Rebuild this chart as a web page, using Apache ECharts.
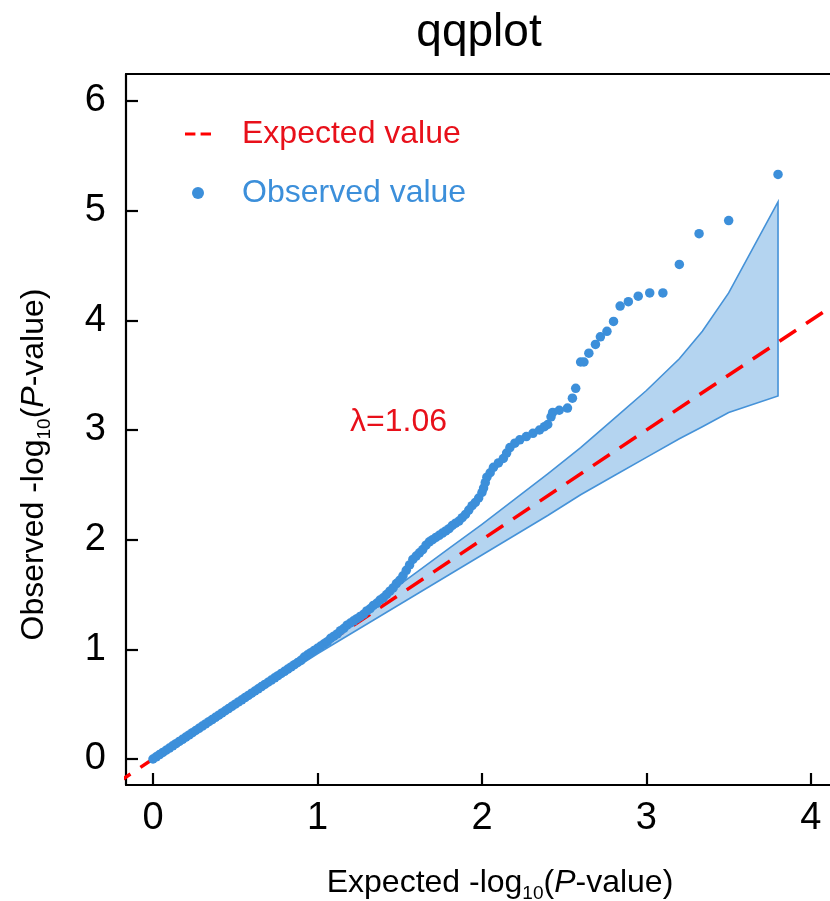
<!DOCTYPE html>
<html>
<head>
<meta charset="utf-8">
<script src="https://cdn.jsdelivr.net/npm/echarts@6/dist/echarts.min.js"></script>
<style>
html,body{margin:0;padding:0;background:#fff;}
#chart{width:830px;height:901px;}
</style>
</head>
<body>
<div id="chart"></div>
<script>
// ---- data ----
const xTicks = [0, 1, 2, 3, 4];
const yTicks = [0, 1, 2, 3, 4, 5, 6];

// expected line (y = x), two end points
const expectedX = [-0.4, 4.4];
const expectedY = [-0.4, 4.4];

// 95% confidence band
const bandX     = [0.00, 0.50, 1.00, 1.20, 1.40, 1.60, 1.80, 2.00, 2.20, 2.40, 2.60, 2.80, 3.00, 3.20, 3.34, 3.50, 3.80];
const bandLower = [0.00, 0.48, 0.96, 1.14, 1.32, 1.50, 1.68, 1.86, 2.04, 2.22, 2.41, 2.58, 2.75, 2.92, 3.03, 3.16, 3.31];
const bandUpper = [0.00, 0.52, 1.04, 1.26, 1.48, 1.70, 1.92, 2.14, 2.37, 2.60, 2.84, 3.10, 3.36, 3.65, 3.90, 4.25, 5.08];

// observed points
const observedX = [
  0.00,0.02,0.04,0.06,0.08,0.10,0.12,0.14,0.16,0.18,0.20,0.22,0.24,0.26,0.28,0.30,0.32,0.34,0.36,0.38,
  0.40,0.42,0.44,0.46,0.48,0.50,0.52,0.54,0.56,0.58,0.60,0.62,0.64,0.66,0.68,0.70,0.72,0.74,0.76,0.78,
  0.80,0.82,0.84,0.86,0.88,0.90,0.92,0.94,0.96,0.98,1.00,1.02,1.04,1.06,1.08,1.10,1.12,1.14,1.16,1.18,
  1.20,1.22,1.24,1.26,1.28,1.30,1.32,1.34,1.36,1.38,1.40,1.42,1.44,1.46,1.48,1.50,1.52,1.54,1.56,1.58,
  1.60,1.62,1.64,1.66,1.68,1.70,1.72,1.74,1.76,1.78,1.80,1.82,1.84,1.86,1.88,1.90,1.92,1.94,1.96,1.98,
  2.00,2.01,2.02,2.03,2.05,2.07,2.10,2.13,2.15,2.17,2.20,2.23,2.27,2.31,2.35,2.38,2.40,2.42,2.43,2.47,
  2.52,2.55,2.57,2.60,2.62,2.65,2.69,2.72,2.76,2.80,2.84,2.89,2.95,3.02,3.10,3.20,3.32,3.50,3.80
];
const observedY = [
  0.00,0.02,0.04,0.06,0.08,0.10,0.12,0.14,0.16,0.18,0.20,0.22,0.24,0.26,0.28,0.30,0.32,0.34,0.36,0.38,
  0.40,0.42,0.44,0.46,0.48,0.50,0.52,0.54,0.56,0.58,0.60,0.62,0.64,0.66,0.68,0.70,0.72,0.74,0.76,0.78,
  0.80,0.82,0.84,0.86,0.88,0.90,0.93,0.95,0.97,0.99,1.01,1.03,1.05,1.07,1.10,1.12,1.14,1.17,1.19,1.22,
  1.24,1.26,1.28,1.30,1.32,1.35,1.37,1.40,1.42,1.45,1.47,1.50,1.53,1.56,1.60,1.63,1.67,1.72,1.77,1.82,
  1.85,1.88,1.91,1.95,1.98,2.00,2.02,2.04,2.06,2.08,2.10,2.13,2.15,2.17,2.20,2.23,2.27,2.31,2.34,2.38,
  2.43,2.47,2.52,2.57,2.61,2.66,2.70,2.74,2.79,2.84,2.88,2.91,2.94,2.97,3.00,3.03,3.05,3.12,3.16,3.18,
  3.20,3.29,3.38,3.62,3.62,3.70,3.78,3.85,3.90,3.99,4.13,4.17,4.22,4.25,4.25,4.51,4.79,4.91,5.33
];
const lambdaText = 'λ=1.06';

// ---- chart ----
const FONT = 'Liberation Sans, Arial, sans-serif';
const RED_TXT = '#e8101a';
const RED_LINE = '#ff0000';
const BLUE = '#3c8fda';

const chart = echarts.init(document.getElementById('chart'), null, {renderer: 'canvas'});

const axisNameRich = {
  n: {fontSize: 32, fontFamily: FONT, color: '#000', lineHeight: 40},
  i: {fontSize: 32, fontFamily: FONT, color: '#000', fontStyle: 'italic', lineHeight: 40},
  s: {fontSize: 19, fontFamily: FONT, color: '#000', lineHeight: 20, verticalAlign: 'bottom'}
};

const option = {
  animation: false,
  backgroundColor: '#fff',
  title: {
    text: 'qqplot',
    left: 479,
    textAlign: 'center',
    top: 10,
    padding: 0,
    textStyle: {fontSize: 46, fontWeight: 'normal', color: '#000', fontFamily: FONT}
  },
  legend: {
    orient: 'vertical',
    left: 180,
    top: 111,
    itemWidth: 26,
    itemHeight: 12,
    itemGap: 23,
    selectedMode: false,
    textStyle: {fontSize: 32, fontFamily: FONT, lineHeight: 36, padding: [0, 0, 0, 26]},
    data: [
      {name: 'Expected value', icon: 'path://M0,0h10v3h-10z M15,0h10v3h-10z', itemStyle: {color: RED_LINE}, textStyle: {color: RED_TXT}},
      {name: 'Observed value', icon: 'circle', itemStyle: {color: BLUE}, textStyle: {color: BLUE}}
    ]
  },
  grid: {left: 126, top: 74, right: 0, bottom: 116, containLabel: false, outerBoundsMode: 'none'},
  xAxis: [{
    type: 'value',
    min: -0.164,
    max: 4.116,
    position: 'bottom',
    name: '{n|Expected -log}{s|10}{n|(}{i|P}{n|-value)}',
    nameLocation: 'middle',
    nameGap: 78,
    nameTextStyle: {rich: axisNameRich, padding: [0, 0, 0, 44]},
    axisLine: {show: true, onZero: false, lineStyle: {color: '#000', width: 2.2}},
    axisTick: {show: true, inside: true, length: 12, lineStyle: {color: '#000', width: 2.2}, customValues: xTicks},
    axisLabel: {show: true, margin: 15, fontSize: 38, color: '#000', fontFamily: FONT, customValues: xTicks},
    splitLine: {show: false}
  }, {
    type: 'value',
    min: -0.164,
    max: 4.116,
    position: 'top',
    axisLine: {show: true, onZero: false, lineStyle: {color: '#000', width: 2.2}},
    axisTick: {show: false},
    axisLabel: {show: false},
    splitLine: {show: false}
  }],
  yAxis: {
    type: 'value',
    min: -0.237,
    max: 6.246,
    name: '{n|Observed -log}{s|10}{n|(}{i|P}{n|-value)}',
    nameLocation: 'middle',
    nameRotate: 90,
    nameGap: 72,
    nameTextStyle: {rich: axisNameRich, padding: [0, 70, 0, 0]},
    axisLine: {show: true, onZero: false, lineStyle: {color: '#000', width: 2.2}},
    axisTick: {show: true, inside: true, length: 12, lineStyle: {color: '#000', width: 2.2}, customValues: yTicks},
    axisLabel: {show: true, margin: 20, fontSize: 38, color: '#000', fontFamily: FONT, customValues: yTicks},
    splitLine: {show: false}
  },
  graphic: [{
    type: 'text',
    left: 350,
    top: 406,
    style: {text: lambdaText, fontSize: 32, fontFamily: FONT, fill: RED_TXT}
  }],
  series: [
    {
      name: 'CI band',
      type: 'custom',
      xAxisIndex: 0,
      z: 1,
      clip: true,
      data: bandX.map((x, i) => [x, bandLower[i], bandUpper[i]]),
      encode: {x: 0, y: [1, 2]},
      renderItem: function (params, api) {
        if (params.dataIndex !== 0) return null;
        const pts = [];
        for (let i = 0; i < bandX.length; i++) pts.push(api.coord([bandX[i], bandUpper[i]]));
        for (let i = bandX.length - 1; i >= 0; i--) pts.push(api.coord([bandX[i], bandLower[i]]));
        return {
          type: 'polygon',
          shape: {points: pts},
          style: {fill: '#b4d4f0', stroke: '#4592d8', lineWidth: 1.6}
        };
      },
      silent: true
    },
    {
      name: 'Expected value',
      type: 'line',
      xAxisIndex: 0,
      z: 2,
      data: expectedX.map((x, i) => [x, expectedY[i]]),
      showSymbol: false,
      symbol: 'none',
      clip: true,
      lineStyle: {color: RED_LINE, width: 3.5, type: [20, 12]},
      itemStyle: {color: RED_LINE},
      silent: true
    },
    {
      name: 'Observed value',
      type: 'scatter',
      xAxisIndex: 0,
      z: 3,
      data: observedX.map((x, i) => [x, observedY[i]]),
      symbol: 'circle',
      symbolSize: 9.5,
      itemStyle: {color: BLUE, opacity: 1},
      silent: true
    }
  ]
};
chart.setOption(option);
</script>
</body>
</html>
